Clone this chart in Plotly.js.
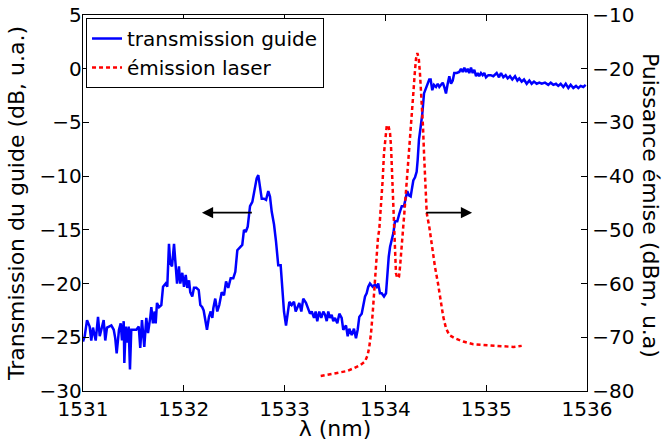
<!DOCTYPE html>
<html>
<head>
<meta charset="utf-8">
<script src="https://cdn.plot.ly/plotly-3.0.1.min.js"></script>
<style>html,body{margin:0;padding:0;background:#fff}#chart{width:663px;height:441px}</style>
</head>
<body>
<div id="chart"></div>
<script>
// Transmission guide (left axis, dB)
const guideWavelength = [
1531.000,1531.017,1531.040,1531.066,1531.082,1531.099,1531.126,1531.149,1531.166,1531.182,
1531.205,1531.221,1531.238,1531.258,1531.281,1531.305,1531.320,1531.334,1531.357,1531.374,
1531.387,1531.404,1531.410,1531.424,1531.437,1531.453,1531.466,1531.479,1531.503,1531.529,
1531.553,1531.568,1531.585,1531.608,1531.628,1531.645,1531.668,1531.678,1531.694,1531.711,
1531.721,1531.734,1531.754,1531.777,1531.794,1531.820,1531.836,1531.853,1531.866,1531.883,
1531.903,1531.920,1531.933,1531.952,1531.965,1531.985,1532.002,1532.019,1532.035,1532.052,
1532.064,1532.084,1532.101,1532.124,1532.148,1532.164,1532.183,1532.197,1532.217,1532.230,
1532.250,1532.267,1532.283,1532.293,1532.312,1532.332,1532.352,1532.376,1532.399,1532.419,
1532.441,1532.465,1532.491,1532.511,1532.531,1532.557,1532.580,1532.597,1532.614,1532.634,
1532.657,1532.680,1532.699,1532.723,1532.739,1532.756,1532.773,1532.796,1532.816,1532.838,
1532.855,1532.872,1532.895,1532.915,1532.937,1532.961,1532.977,1532.994,1533.014,1533.027,
1533.047,1533.070,1533.093,1533.110,1533.126,1533.146,1533.166,1533.185,1533.212,1533.229,
1533.252,1533.269,1533.292,1533.308,1533.324,1533.344,1533.364,1533.384,1533.401,1533.418,
1533.433,1533.450,1533.467,1533.483,1533.500,1533.523,1533.543,1533.566,1533.582,1533.609,
1533.626,1533.642,1533.666,1533.688,1533.708,1533.725,1533.741,1533.765,1533.781,1533.798,
1533.814,1533.830,1533.847,1533.874,1533.897,1533.914,1533.929,1533.946,1533.963,1533.986,
1534.006,1534.019,1534.033,1534.046,1534.066,1534.079,1534.095,1534.118,1534.138,1534.162,
1534.184,1534.204,1534.217,1534.234,1534.251,1534.261,1534.277,1534.294,1534.310,1534.320,
1534.333,1534.350,1534.366,1534.383,1534.403,1534.420,1534.435,1534.449,1534.465,1534.482,
1534.502,1534.519,1534.535,1534.552,1534.569,1534.584,1534.601,1534.618,1534.634,1534.651,
1534.668,1534.683,1534.707,1534.733,1534.750,1534.767,1534.783,1534.800,1534.816,1534.832,
1534.849,1534.866,1534.882,1534.899,1534.916,1534.931,1534.948,1534.965,1534.981,1534.998,
1535.021,1535.045,1535.070,1535.104,1535.127,1535.147,1535.170,1535.193,1535.213,1535.236,
1535.259,1535.286,1535.309,1535.328,1535.352,1535.375,1535.402,1535.428,1535.451,1535.474,
1535.501,1535.527,1535.551,1535.583,1535.616,1535.640,1535.666,1535.692,1535.715,1535.739,
1535.765,1535.789,1535.815,1535.838,1535.864,1535.891,1535.914,1535.937,1535.963,1535.987
];
const guideTransmission = [
-25.4,-24.9,-23.4,-24.0,-25.3,-24.1,-25.3,-23.1,-24.9,-24.3,
-23.4,-25.3,-24.1,-24.0,-23.9,-24.3,-25.1,-26.5,-24.3,-23.7,
-25.3,-23.5,-27.4,-24.0,-25.5,-24.0,-28.0,-24.3,-24.3,-24.3,
-24.0,-26.0,-23.4,-25.9,-23.2,-24.6,-23.1,-22.2,-23.7,-22.6,
-23.7,-21.8,-22.2,-22.0,-20.3,-20.0,-20.3,-16.3,-18.1,-18.4,
-16.3,-18.4,-20.0,-18.4,-20.0,-19.0,-20.3,-19.2,-20.4,-19.7,
-20.8,-21.2,-20.4,-20.4,-20.6,-22.0,-22.2,-22.5,-23.7,-24.3,
-23.1,-22.6,-23.2,-22.3,-21.4,-22.6,-22.0,-20.8,-21.1,-19.8,
-20.4,-19.5,-19.5,-18.9,-16.9,-16.6,-16.4,-15.0,-15.2,-14.7,
-12.8,-12.4,-11.4,-10.2,-9.9,-10.8,-12.1,-12.1,-12.2,-11.4,
-11.9,-13.3,-14.5,-16.1,-18.3,-18.3,-20.8,-22.6,-23.9,-22.9,
-21.7,-22.0,-21.7,-22.6,-22.3,-21.8,-22.6,-21.4,-21.8,-22.3,
-22.8,-22.6,-23.2,-22.6,-23.5,-22.6,-23.2,-22.6,-22.9,-23.5,
-22.6,-23.2,-22.9,-23.5,-23.2,-23.7,-22.8,-23.2,-24.3,-23.9,
-24.9,-24.2,-24.8,-24.2,-25.1,-24.3,-23.1,-22.8,-21.8,-21.2,
-20.9,-20.3,-20.0,-20.3,-20.1,-20.3,-20.0,-20.9,-20.9,-21.2,
-20.9,-19.0,-17.5,-16.6,-15.9,-15.3,-14.2,-14.2,-13.5,-12.8,
-12.8,-11.9,-11.4,-11.8,-11.9,-11.3,-10.4,-10.1,-9.6,-8.5,
-6.6,-5.4,-4.2,-2.3,-1.8,-1.4,-1.0,-1.0,-2.0,-1.5,
-1.7,-1.4,-1.7,-1.5,-1.3,-1.7,-2.3,-1.4,-0.7,-1.4,
-1.1,-0.4,-0.4,-0.3,0.0,-0.3,0.1,-0.3,0.0,-0.4,
0.1,-0.4,-0.1,-0.7,-0.4,-0.7,-0.4,-0.6,-0.4,-0.8,
-0.6,-0.6,-0.7,-0.4,-0.8,-0.4,-0.8,-0.6,-0.9,-0.7,
-1.0,-0.7,-1.1,-0.9,-1.2,-1.0,-1.4,-1.1,-1.4,-1.2,
-1.4,-1.3,-1.4,-1.3,-1.5,-1.3,-1.5,-1.4,-1.6,-1.4,
-1.7,-1.4,-1.8,-1.5,-1.8,-1.6,-1.8,-1.6,-1.7,-1.5
];
// Laser emission (right axis, dBm)
const laserWavelength = [
1533.358,1533.418,1533.483,1533.550,1533.616,1533.681,1533.748,1533.798,1533.824,1533.840,
1533.857,1533.874,1533.887,1533.900,1533.914,1533.927,1533.939,1533.946,1533.959,1533.973,
1533.986,1533.999,1534.013,1534.029,1534.046,1534.056,1534.066,1534.076,1534.086,1534.095,
1534.105,1534.118,1534.135,1534.145,1534.158,1534.172,1534.188,1534.204,1534.217,1534.234,
1534.251,1534.264,1534.277,1534.291,1534.304,1534.317,1534.331,1534.343,1534.360,1534.373,
1534.383,1534.393,1534.410,1534.435,1534.462,1534.492,1534.522,1534.549,1534.574,1534.601,
1534.634,1534.690,1534.773,1534.872,1534.971,1535.070,1535.170,1535.269,1535.352
];
const laserPower = [
-77.2,-77.0,-76.7,-76.6,-76.3,-75.8,-75.2,-74.5,-73.3,-71.8,
-69.3,-65.5,-61.8,-58.1,-54.4,-51.3,-50.0,-48.2,-44.4,-40.7,
-35.7,-32.7,-30.7,-30.5,-32.0,-34.5,-39.5,-44.4,-49.4,-54.4,
-58.1,-59.0,-58.7,-56.9,-54.4,-50.6,-46.9,-43.2,-39.5,-35.7,
-32.0,-28.3,-24.6,-20.9,-18.1,-17.1,-18.1,-20.9,-25.8,-30.8,
-35.7,-40.7,-46.9,-49.4,-53.1,-56.9,-60.0,-63.1,-66.2,-68.3,
-69.6,-70.2,-70.8,-71.3,-71.4,-71.6,-71.6,-71.8,-71.6
];
const xTicks = [1531, 1532, 1533, 1534, 1535, 1536];
const leftTicks = [5, 0, -5, -10, -15, -20, -25, -30];
const rightTicks = [-10, -20, -30, -40, -50, -60, -70, -80];

const FONT = 'DejaVu Sans, sans-serif';
const FS = 20;
const TFS = 22;
const traces = [
  {x: guideWavelength, y: guideTransmission, type: 'scatter', mode: 'lines',
   name: 'transmission guide', line: {color: '#0000ff', width: 2.5}, yaxis: 'y'},
  {x: laserWavelength, y: laserPower, type: 'scatter', mode: 'lines',
   name: 'émission laser', line: {color: '#ff0000', width: 2.5, dash: '4px,3px'}, yaxis: 'y2'}
];
const axBase = {showgrid: false, zeroline: false, showline: true, linecolor: '#000', linewidth: 1.3,
  ticks: 'inside', ticklen: 6, tickcolor: '#000', tickwidth: 1,
  tickfont: {family: FONT, size: FS, color: '#000'}};
const layout = {
  width: 663, height: 441,
  margin: {l: 83, r: 76, t: 15, b: 50},
  paper_bgcolor: '#fff', plot_bgcolor: '#fff',
  font: {family: FONT, size: FS, color: '#000'},
  xaxis: Object.assign({}, axBase, {range: [1531, 1536], tickvals: xTicks, mirror: 'ticks',
    ticktext: xTicks.map(String),
    title: {text: 'λ (nm)', font: {family: FONT, size: TFS}, standoff: 0}}),
  yaxis: Object.assign({}, axBase, {range: [-30, 5], tickvals: leftTicks, ticklabelstandoff: -4,
    title: {text: 'Transmission du guide (dB, u.a.)', font: {family: FONT, size: TFS}, standoff: 8}}),
  yaxis2: Object.assign({}, axBase, {range: [-80, -10], tickvals: rightTicks, overlaying: 'y', side: 'right'}),
  showlegend: true,
  legend: {x: 0.006, y: 0.992, xanchor: 'left', yanchor: 'top', bgcolor: '#fff',
    bordercolor: '#000', borderwidth: 1, font: {family: FONT, size: FS}, itemwidth: 30,
    tracegroupgap: 0},
  annotations: [
    {x: 1532.18, y: -13.4, ax: 1532.69, ay: -13.4, xref: 'x', yref: 'y', axref: 'x', ayref: 'y',
     showarrow: true, arrowhead: 2, arrowsize: 1.4, arrowwidth: 1.6, arrowcolor: '#000', text: ''},
    {x: 1534.86, y: -13.4, ax: 1534.39, ay: -13.4, xref: 'x', yref: 'y', axref: 'x', ayref: 'y',
     showarrow: true, arrowhead: 2, arrowsize: 1.4, arrowwidth: 1.6, arrowcolor: '#000', text: ''},
    {text: 'Puissance émise (dBm, u.a)', xref: 'paper', yref: 'paper', x: 1.125, y: 0.495,
     xanchor: 'center', yanchor: 'middle', textangle: 90, showarrow: false,
     font: {family: FONT, size: TFS, color: '#000'}}
  ]
};
Plotly.newPlot('chart', traces, layout, {staticPlot: true, displayModeBar: false});
</script>
</body>
</html>
